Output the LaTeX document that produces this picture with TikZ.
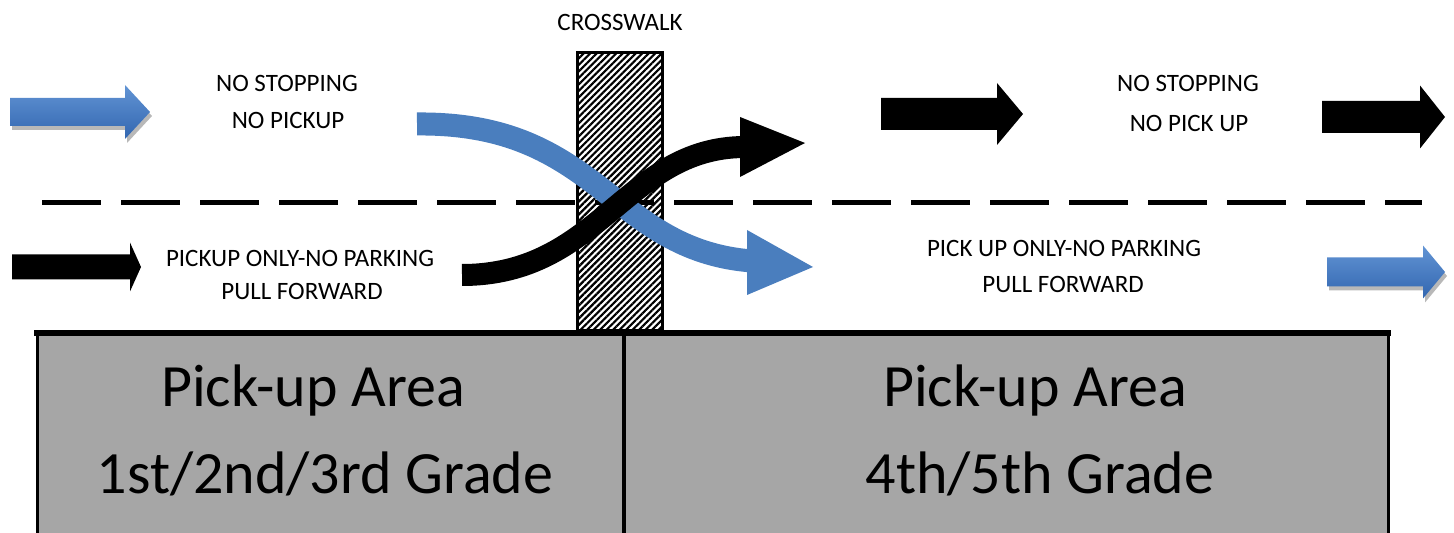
\documentclass[tikz,border=0pt]{standalone}
\usepackage{fontspec}
\setmainfont{Carlito}
\usetikzlibrary{patterns.meta}

\definecolor{lotgray}{RGB}{166,166,166}
\definecolor{laneblue}{RGB}{74,126,190}
\definecolor{lanebluetop}{RGB}{98,148,212}
\definecolor{lanebluebot}{RGB}{50,102,176}

% Block arrow: style, tail x, head base x, tip x, centre y, shaft half height, head half height
\newcommand\BlockArrow[7]{%
  \path[#1] (#2,#5-#6) -- (#3,#5-#6) -- (#3,#5-#7) -- (#4,#5)
    -- (#3,#5+#7) -- (#3,#5+#6) -- (#2,#5+#6) -- cycle;}

\begin{document}
\begin{tikzpicture}[x=0.5pt,y=-0.5pt,
  sign/.style={font=\fontsize{12.5}{14}\selectfont, anchor=base, inner sep=0pt},
  area/.style={font=\fontsize{30}{35}\selectfont, anchor=base, inner sep=0pt},
  blackarrow/.style={fill=black},
  bluearrow/.style={top color=lanebluetop, bottom color=lanebluebot},
  arrowshadow/.style={fill=black!28},
  flowblue/.style={draw=laneblue, line width=11.5pt, line cap=butt},
  flowblack/.style={draw=black, line width=11pt, line cap=butt},
  border/.style={draw=black, line cap=rect}]

\path[use as bounding box] (0,0) rectangle (1454,533);
\clip (0,0) rectangle (1454,533);

% pick-up areas
\fill[lotgray] (37,333) rectangle (1388,545);
\draw[border, line width=1.5pt] (37,333) -- (37,545);
\draw[border, line width=1.5pt] (1388,333) -- (1388,545);
\draw[border, line width=2pt] (624,333) -- (624,545);
\draw[border, line width=3pt] (37,333) -- (1388,333);

% crosswalk
\fill[white] (577,53) rectangle (662,331);
\fill[pattern={Lines[angle=45,distance=2.3pt,line width=1.1pt]}] (577,53) rectangle (662,331);
\draw[line width=1.5pt] (577,53) rectangle (662,331);

% lane divider
\draw[line width=2.5pt, dash pattern=on 29.5pt off 10pt] (42,203) -- (1422,203);

% straight lane arrows
\BlockArrow{arrowshadow}{12}{127}{152}{116}{14}{27}
\BlockArrow{bluearrow}{10}{125}{150}{112}{14}{27}
\BlockArrow{blackarrow}{12}{130}{141}{267}{12.5}{24.5}
\BlockArrow{blackarrow}{881}{997}{1023}{114}{16}{31}
\BlockArrow{blackarrow}{1322}{1420}{1445}{117}{16}{31.5}
\BlockArrow{arrowshadow}{1329}{1425}{1447}{276}{14.5}{26.5}
\BlockArrow{bluearrow}{1327}{1423}{1445}{272}{14.5}{26.5}

% crossing lanes at the crosswalk
\draw[flowblue] (417,124) .. controls (600,122) and (610,250) .. (752,261);
\fill[laneblue] (747,230) -- (813,267) -- (747,295) -- cycle;
\draw[flowblack] (462,275) .. controls (600,275) and (625,148) .. (744,147);
\fill[black] (740,117) -- (805,143) -- (740,177) -- cycle;

% labels
\node[sign] (cw) at (620,31) {CROSSWALK};
\node[sign] (ns1) at (287,92) {NO STOPPING};
\node[sign] (np1) at (288,129) {NO PICKUP};
\node[sign] (po1) at (300,267) {PICKUP ONLY-NO PARKING};
\node[sign] (pf1) at (302,300) {PULL FORWARD};
\node[sign] (ns2) at (1188,92) {NO STOPPING};
\node[sign] (np2) at (1189,132) {NO PICK UP};
\node[sign] (po2) at (1064,257) {PICK UP ONLY-NO PARKING};
\node[sign] (pf2) at (1063,293) {PULL FORWARD};

\node[area] (a1) at (313,407) {Pick-up Area};
\node[area] (g1) at (325,493) {1st/2nd/3rd Grade};
\node[area] (a2) at (1035,407) {Pick-up Area};
\node[area] (g2) at (1040,493) {4th/5th Grade};
\end{tikzpicture}
\end{document}
